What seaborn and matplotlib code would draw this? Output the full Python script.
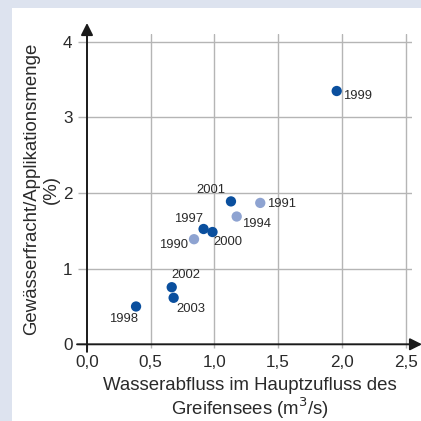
import matplotlib
matplotlib.use("Agg")
import matplotlib.pyplot as plt
from matplotlib.patches import Rectangle
import seaborn as sns
import pandas as pd

# ---- data ----
years = [1990, 1991, 1994, 1997, 1998, 1999, 2000, 2001, 2002, 2003]
abfluss = [0.84, 1.36, 1.175, 0.915, 0.385, 1.96, 0.985, 1.13, 0.665, 0.68]
fracht = [1.39, 1.87, 1.69, 1.525, 0.50, 3.35, 1.485, 1.89, 0.755, 0.615]
gruppe = ["alt", "alt", "alt", "neu", "neu", "neu", "neu", "neu", "neu", "neu"]
x_ticks = [0.0, 0.5, 1.0, 1.5, 2.0, 2.5]
x_ticklabels = ["0,0", "0,5", "1,0", "1,5", "2,0", "2,5"]
y_ticks = [0, 1, 2, 3, 4]
y_ticklabels = ["0", "1", "2", "3", "4"]

# label offsets (pixels) and alignment per year
label_style = {
    1990: (-6, -6, "right"),
    1991: (7, -1, "left"),
    1994: (5, -7, "left"),
    1997: (-1, 10, "right"),
    1998: (2, -13, "right"),
    1999: (6, -5, "left"),
    2000: (1, -10, "left"),
    2001: (-6, 11, "right"),
    2002: (0, 12, "left"),
    2003: (3, -11, "left"),
}

df = pd.DataFrame({"Jahr": years, "x": abfluss, "y": fracht, "g": gruppe})

sns.set_theme(style="white")
plt.rcParams["font.family"] = ["Liberation Sans", "DejaVu Sans"]

W = 421
txt_c = "#2a2a2a"
fig = plt.figure(figsize=(4.21, 4.21), dpi=100)
fig.patch.set_facecolor("#dde3ef")
bg = Rectangle((12 / W, 0), 1, 1 - 8 / W, transform=fig.transFigure,
               facecolor="white", edgecolor="none", zorder=-10)
fig.patches.append(bg)

ax = fig.add_axes([87 / W, 1 - 344.3 / W, (412 - 87) / W, (344.3 - 34) / W])
ax.set_facecolor("none")

grid_c = "#b5b5b5"
for xv in x_ticks[1:]:
    ax.axvline(xv, color=grid_c, lw=1.0, zorder=1)
for yv in y_ticks[1:]:
    ax.axhline(yv, color=grid_c, lw=1.0, zorder=1)

sns.scatterplot(data=df, x="x", y="y", hue="g",
                palette={"alt": "#8ea3d1", "neu": "#0a4f9e"},
                s=55, linewidth=0, legend=False, ax=ax, zorder=3)

for yr, xv, yv in zip(years, abfluss, fracht):
    dx, dy, ha = label_style[yr]
    ax.annotate(str(yr), (xv, yv), xytext=(dx, dy), textcoords="offset pixels",
                ha=ha, va="center", fontsize=9.4, color=txt_c)

ax.set_xlim(0, 2.551)
ax.set_ylim(0, 4.104)
ax.set_xticks(x_ticks)
ax.set_xticklabels(x_ticklabels)
ax.set_yticks(y_ticks)
ax.set_yticklabels(y_ticklabels)
for s in ax.spines.values():
    s.set_visible(False)
ax.tick_params(axis="x", length=3, width=1.0, color=grid_c, pad=5,
               labelsize=12.3, labelcolor=txt_c, bottom=True)
ax.tick_params(axis="y", length=6.5, width=1.0, color=grid_c, pad=4,
               labelsize=12.3, labelcolor=txt_c, left=True)

# axes with arrows
arrow = dict(arrowstyle="-|>,head_length=0.6,head_width=0.3", color="#1a1a1a",
             lw=1.4, mutation_scale=12, shrinkA=0, shrinkB=0)
ax.annotate("", xy=(0, 4.25), xytext=(0, -0.10), xycoords="data",
            arrowprops=arrow, annotation_clip=False, zorder=4)
ax.annotate("", xy=(2.63, 0), xytext=(-0.078, 0), xycoords="data",
            arrowprops=arrow, annotation_clip=False, zorder=4)

ax.set_xlabel("Wasserabfluss im Hauptzufluss des\nGreifensees (m$^3$/s)",
              fontsize=13.4, color=txt_c, linespacing=1.05, labelpad=5)
ax.set_ylabel("Gewässerfracht/Applikationsmenge\n(%)",
              fontsize=13.4, color=txt_c, linespacing=1.25, labelpad=2)

fig.savefig("out.png", dpi=100)
